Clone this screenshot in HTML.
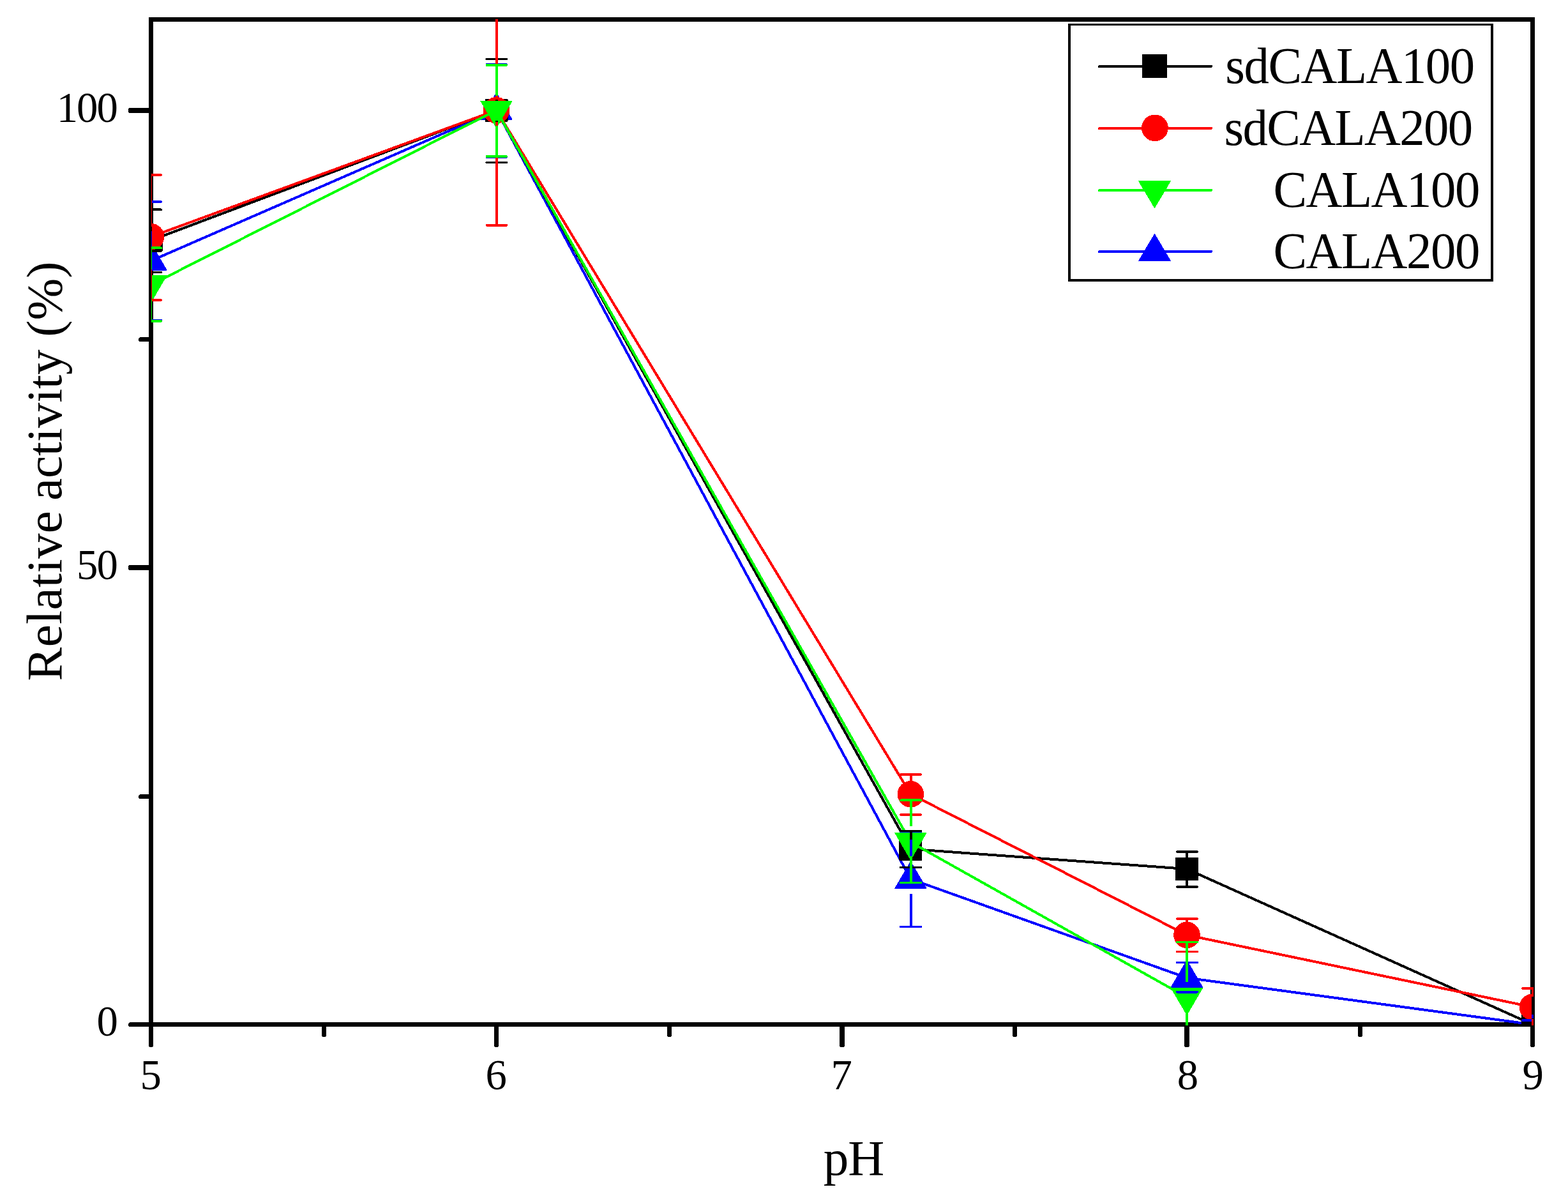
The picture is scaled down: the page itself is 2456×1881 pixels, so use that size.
<!DOCTYPE html>
<html lang="en">
<head>
<meta charset="utf-8">
<title>Relative activity vs pH</title>
<style>
html,body{margin:0;padding:0;background:#fff;}
body{width:2456px;height:1881px;overflow:hidden;}
svg{display:block;}
text{font-family:"Liberation Serif","DejaVu Serif",serif;fill:#000;font-kerning:none;white-space:pre;}
.leg{font-size:80.4px;}
.ttl{font-size:79px;}
.tick{font-size:66.8px;}
</style>
</head>
<body>
<svg width="2456" height="1881" viewBox="0 0 2456 1881" shape-rendering="crispEdges">
<rect x="0" y="0" width="2456" height="1881" fill="#ffffff"/>
<defs>
<clipPath id="clipSym"><rect x="237" y="30" width="2162" height="1576"/></clipPath>
<clipPath id="clipErr"><rect x="237" y="30" width="2165" height="1576"/></clipPath>
</defs>
<g id="axes" stroke="#000" stroke-width="7" fill="none" stroke-linecap="round">
<rect x="236.5" y="30.5" width="2164.0" height="1574.0" stroke-linejoin="miter"/>
<line x1="236.5" y1="1604.5" x2="236.5" y2="1636.5" stroke-width="7"/>
<line x1="777.5" y1="1604.5" x2="777.5" y2="1636.5" stroke-width="7"/>
<line x1="1319" y1="1604.5" x2="1319" y2="1636.5" stroke-width="8"/>
<line x1="1859" y1="1604.5" x2="1859" y2="1636.5" stroke-width="8"/>
<line x1="2400.5" y1="1604.5" x2="2400.5" y2="1636.5" stroke-width="7"/>
<line x1="507.5" y1="1604.5" x2="507.5" y2="1620.5"/>
<line x1="1048.5" y1="1604.5" x2="1048.5" y2="1620.5"/>
<line x1="1589.5" y1="1604.5" x2="1589.5" y2="1620.5"/>
<line x1="2130.5" y1="1604.5" x2="2130.5" y2="1620.5"/>
<line x1="236.5" y1="173" x2="204.5" y2="173" stroke-width="8"/>
<line x1="236.5" y1="889" x2="204.5" y2="889" stroke-width="8"/>
<line x1="236.5" y1="1604.5" x2="204.5" y2="1604.5" stroke-width="7"/>
<line x1="236.5" y1="531.5" x2="220.5" y2="531.5"/>
<line x1="236.5" y1="1247.5" x2="220.5" y2="1247.5"/>
</g>
<g id="plots" clip-path="url(#clipSym)">
<g id="series-blue">
<polyline points="236.5,408.5 777.5,172.7 1426.4,1376.8 1859.0,1531.5 2400.5,1604.5" fill="none" stroke="#0000ff" stroke-width="4" stroke-linejoin="round"/>
<path d="M211.90 423.00H261.10L236.50 380.90Z" fill="#0000ff" stroke="#0000ff" stroke-width="1" stroke-linejoin="round"/>
<path d="M752.90 187.20H802.10L777.50 145.10Z" fill="#0000ff" stroke="#0000ff" stroke-width="1" stroke-linejoin="round"/>
<path d="M1401.80 1391.30H1451.00L1426.40 1349.20Z" fill="#0000ff" stroke="#0000ff" stroke-width="1" stroke-linejoin="round"/>
<path d="M1834.40 1546.00H1883.60L1859.00 1503.90Z" fill="#0000ff" stroke="#0000ff" stroke-width="1" stroke-linejoin="round"/>
<path d="M2375.90 1619.00H2425.10L2400.50 1576.90Z" fill="#0000ff" stroke="#0000ff" stroke-width="1" stroke-linejoin="round"/>
</g>
<g id="series-black">
<polyline points="236.5,376.5 777.5,172.7 1426.4,1329.8 1859.0,1361.0 2400.5,1604.5" fill="none" stroke="#000000" stroke-width="4" stroke-linejoin="round"/>
<rect x="218.50" y="358.50" width="36.0" height="36.0" rx="1.5" fill="#000000"/>
<rect x="759.50" y="154.70" width="36.0" height="36.0" rx="1.5" fill="#000000"/>
<rect x="1408.40" y="1311.80" width="36.0" height="36.0" rx="1.5" fill="#000000"/>
<rect x="1841.00" y="1343.00" width="36.0" height="36.0" rx="1.5" fill="#000000"/>
<rect x="2382.50" y="1586.50" width="36.0" height="36.0" rx="1.5" fill="#000000"/>
</g>
<g id="series-red">
<polyline points="236.5,370.7 777.5,172.7 1426.4,1243.8 1859.0,1464.4 2400.5,1577.3" fill="none" stroke="#ff0000" stroke-width="4" stroke-linejoin="round"/>
<circle cx="236.50" cy="370.70" r="20.8" fill="#ff0000"/>
<circle cx="777.50" cy="172.70" r="20.8" fill="#ff0000"/>
<circle cx="1426.40" cy="1243.80" r="20.8" fill="#ff0000"/>
<circle cx="1859.00" cy="1464.40" r="20.8" fill="#ff0000"/>
<circle cx="2400.50" cy="1577.30" r="20.8" fill="#ff0000"/>
</g>
<g id="series-green">
<polyline points="236.5,446.0 777.5,172.7 1426.4,1319.0 1859.0,1562.0" fill="none" stroke="#00ff00" stroke-width="4" stroke-linejoin="round"/>
<path d="M211.90 431.50H261.10L236.50 473.60Z" fill="#00ff00" stroke="#00ff00" stroke-width="1" stroke-linejoin="round"/>
<path d="M752.90 158.20H802.10L777.50 200.30Z" fill="#00ff00" stroke="#00ff00" stroke-width="1" stroke-linejoin="round"/>
<path d="M1401.80 1304.50H1451.00L1426.40 1346.60Z" fill="#00ff00" stroke="#00ff00" stroke-width="1" stroke-linejoin="round"/>
<path d="M1834.40 1547.50H1883.60L1859.00 1589.60Z" fill="#00ff00" stroke="#00ff00" stroke-width="1" stroke-linejoin="round"/>
</g>
</g>
<g id="errors" clip-path="url(#clipErr)" fill="none" stroke-width="4">
<g id="err-blue" stroke="#0000ff">
<path d="M236 316.0V385.5M236 432.3V501.8" stroke-width="4" stroke-linecap="butt"/>
<path d="M220.8 316.0h31.5M220.8 501.8h31.5" stroke-width="3.5" stroke-linecap="round"/>
<path d="M778 101.0V150.1M778 196.9V246.0" stroke-width="4" stroke-linecap="butt"/>
<path d="M762.2 101.0h31.5M762.2 246.0h31.5" stroke-width="3.5" stroke-linecap="round"/>
<path d="M1427 1302.6V1353.6M1427 1400.4V1451.4" stroke-width="4" stroke-linecap="butt"/>
<path d="M1410.8 1302.6h31.5M1410.8 1451.4h31.5" stroke-width="3.5" stroke-linecap="round"/>
<path d="M1843.8 1507.7h31.5M1843.8 1553.8h31.5" stroke-width="3.5" stroke-linecap="round"/>
<path d="M2384.8 1598.0h31.5M2384.8 1611.0h31.5" stroke-width="3.5" stroke-linecap="round"/>
</g>
<g id="err-black" stroke="#000000">
<path d="M236 328.2V362.1M236 392.6V426.5" stroke-width="4" stroke-linecap="butt"/>
<path d="M220.8 328.2h31.5M220.8 426.5h31.5" stroke-width="3.5" stroke-linecap="round"/>
<path d="M778 92.4V158.2M778 188.8V254.6" stroke-width="4" stroke-linecap="butt"/>
<path d="M762.2 92.4h31.5M762.2 254.6h31.5" stroke-width="3.5" stroke-linecap="round"/>
<path d="M1427 1301.5V1314.8M1427 1345.2V1358.5" stroke-width="4" stroke-linecap="butt"/>
<path d="M1410.8 1301.5h31.5M1410.8 1358.5h31.5" stroke-width="3.5" stroke-linecap="round"/>
<path d="M1859 1334.0V1346.2M1859 1376.8V1389.0" stroke-width="4" stroke-linecap="butt"/>
<path d="M1843.8 1334.0h31.5M1843.8 1389.0h31.5" stroke-width="3.5" stroke-linecap="round"/>
</g>
<g id="err-red" stroke="#ff0000">
<path d="M236 274.0V354.7M236 389.3V470.0" stroke-width="4" stroke-linecap="butt"/>
<path d="M220.8 274.0h31.5M220.8 470.0h31.5" stroke-width="3.5" stroke-linecap="round"/>
<path d="M778 -6.0V156.1M778 190.7V352.8" stroke-width="4" stroke-linecap="butt"/>
<path d="M762.2 -6.0h31.5M762.2 352.8h31.5" stroke-width="3.5" stroke-linecap="round"/>
<path d="M1427 1213.0V1227.2M1427 1261.8V1276.1" stroke-width="4" stroke-linecap="butt"/>
<path d="M1410.8 1213.0h31.5M1410.8 1276.1h31.5" stroke-width="3.5" stroke-linecap="round"/>
<path d="M1859 1439.0V1447.5M1859 1482.0V1490.5" stroke-width="4" stroke-linecap="butt"/>
<path d="M1843.8 1439.0h31.5M1843.8 1490.5h31.5" stroke-width="3.5" stroke-linecap="round"/>
<path d="M2400.5 1548.0V1561.0M2400.5 1595.6V1611.0" stroke-width="3" stroke-linecap="butt"/>
<path d="M2384.8 1548.0h31.5M2384.8 1611.0h31.5" stroke-width="3.5" stroke-linecap="round"/>
</g>
<g id="err-green" stroke="#00ff00">
<path d="M236 388.2V422.2M236 469.0V503.0" stroke-width="4" stroke-linecap="butt"/>
<path d="M220.8 388.2h31.5M220.8 503.0h31.5" stroke-width="3.5" stroke-linecap="round"/>
<path d="M778 102.0V150.1M778 196.9V245.0" stroke-width="4" stroke-linecap="butt"/>
<path d="M762.2 102.0h31.5M762.2 245.0h31.5" stroke-width="3.5" stroke-linecap="round"/>
<path d="M1427 1253.2V1294.4M1427 1341.2V1382.5" stroke-width="4" stroke-linecap="butt"/>
<path d="M1410.8 1253.2h31.5M1410.8 1382.5h31.5" stroke-width="3.5" stroke-linecap="round"/>
<path d="M1859 1475.5V1537.8M1859 1584.7V1647.0" stroke-width="4" stroke-linecap="butt"/>
<path d="M1843.8 1475.5h31.5M1843.8 1647.0h31.5" stroke-width="3.5" stroke-linecap="round"/>
</g>
</g>
<rect x="2399" y="1589" width="3" height="6" fill="#0000ff"/>
<g id="legend">
<rect x="1673" y="37" width="666" height="404" fill="#ffffff"/>
<path d="M1673 37H2339V441H1673ZM1677 40V437H2335V40Z" fill="#000000" fill-rule="evenodd"/>
<line x1="1722" y1="104" x2="1897" y2="104" stroke="#000000" stroke-width="4" stroke-linecap="round"/>
<rect x="1789" y="85" width="39" height="37" rx="1.2" fill="#000000"/>
<text class="leg" transform="translate(1919.32 130.20) scale(0.98 1)" letter-spacing="-1.516">sdCALA100</text>
<line x1="1722" y1="201" x2="1897" y2="201" stroke="#ff0000" stroke-width="4" stroke-linecap="round"/>
<circle cx="1808.9" cy="200.4" r="20.9" fill="#ff0000"/>
<text class="leg" transform="translate(1917.42 227.20) scale(0.98 1)" letter-spacing="-1.656">sdCALA200</text>
<line x1="1722" y1="298" x2="1897" y2="298" stroke="#00ff00" stroke-width="4" stroke-linecap="round"/>
<path d="M1783.50 283.50H1833.50L1808.50 325.60Z" fill="#00ff00" stroke="#00ff00" stroke-width="1" stroke-linejoin="round"/>
<text class="leg" transform="translate(1994.42 324.00) scale(0.98 1)" letter-spacing="-1.493">CALA100</text>
<line x1="1722" y1="394" x2="1897" y2="394" stroke="#0000ff" stroke-width="4" stroke-linecap="round"/>
<path d="M1783.50 408.70H1833.50L1808.50 366.60Z" fill="#0000ff" stroke="#0000ff" stroke-width="1" stroke-linejoin="round"/>
<text class="leg" transform="translate(1994.42 420.40) scale(0.98 1)" letter-spacing="-1.493">CALA200</text>
</g>
<g id="ticklabels">
<text class="tick" x="88.70" y="190.5" letter-spacing="-2.050">100</text>
<text class="tick" x="120.05" y="906.6" letter-spacing="-2.050">50</text>
<text class="tick" x="151.40" y="1622.3">0</text>
<text class="tick" x="219.60" y="1705.6">5</text>
<text class="tick" x="760.60" y="1705.6">6</text>
<text class="tick" x="1301.40" y="1705.6">7</text>
<text class="tick" x="1843.80" y="1705.6">8</text>
<text class="tick" x="2384.60" y="1705.6">9</text>
</g>
<text class="ttl" transform="translate(1289.83 1839.90)" letter-spacing="-1.026">pH</text>
<text class="ttl" transform="translate(96 1066.48) rotate(-90)" letter-spacing="-0.05"><tspan letter-spacing="0.45">Relative</tspan><tspan letter-spacing="-4.2"> </tspan>activity (%)</text>
</svg>
</body>
</html>
